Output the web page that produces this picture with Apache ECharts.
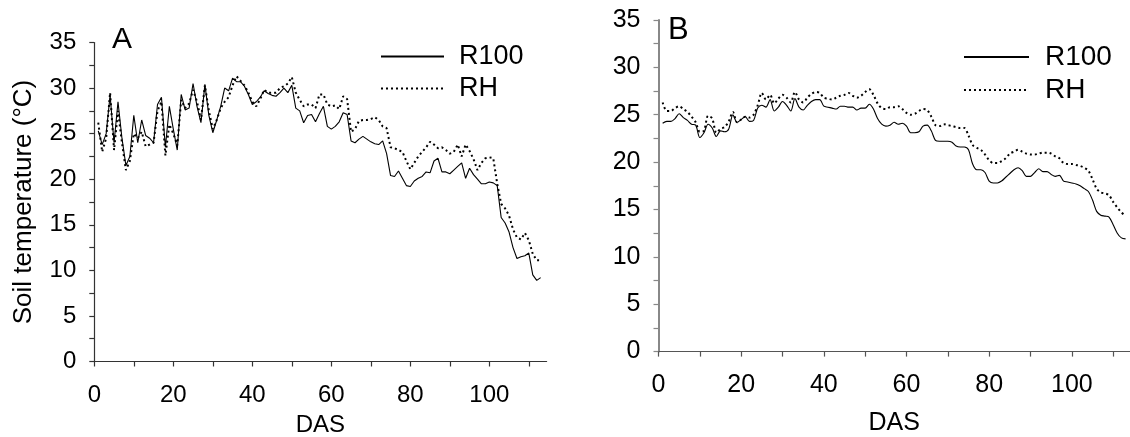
<!DOCTYPE html>
<html>
<head>
<meta charset="utf-8">
<script src="https://cdn.jsdelivr.net/npm/echarts@6/dist/echarts.min.js"></script>
<style>html,body{margin:0;padding:0;background:#fff}#c{width:1130px;height:437px}</style>
</head>
<body>
<div id="c"></div>
<script>
const das = [1,2,3,4,5,6,7,8,9,10,11,12,13,14,15,16,17,18,19,20,21,22,23,24,25,26,27,28,29,30,
31,32,33,34,35,36,37,38,39,40,41,42,43,44,45,46,47,48,49,50,51,52,53,54,55,56,57,58,59,60,
61,62,63,64,65,66,67,68,69,70,71,72,73,74,75,76,77,78,79,80,81,82,83,84,85,86,87,88,89,90,
91,92,93,94,95,96,97,98,99,100,101,102,103,104,105,106,107,108,109,110,111,112,113];

const aR100 = [25.3,23.8,25.0,29.2,24.0,28.5,24.5,21.5,22.5,27.0,
24.0,26.5,24.8,24.5,24.0,28.2,29.0,23.5,28.0,25.5,
23.2,29.3,27.6,27.8,30.5,28.0,26.2,30.4,27.0,25.1,
26.5,28.0,30.0,29.7,31.1,30.7,30.7,30.2,29.3,28.2,
28.5,29.0,29.7,29.4,29.2,29.1,29.5,30.0,29.5,30.3,
27.8,27.5,26.2,27.0,27.1,26.3,27.2,28.0,25.8,25.5,
25.8,26.3,27.3,27.1,24.2,24.0,24.4,24.7,24.4,24.1,
23.9,23.8,24.2,22.8,20.4,20.3,20.9,20.1,19.3,19.2,
19.8,20.1,20.3,20.8,20.7,22.0,22.3,20.8,20.8,20.6,
21.0,21.4,21.8,20.1,21.2,20.5,20.0,19.5,19.5,19.7,
19.6,19.3,15.8,15.2,14.2,12.5,11.3,11.5,11.6,11.9,
9.5,8.9,9.2];

const aRH = [26.2,23.0,24.5,29.5,23.2,27.5,24.0,21.0,22.0,25.0,
24.5,25.2,23.6,23.8,24.0,27.5,28.5,22.6,26.0,25.0,
23.7,28.7,27.8,28.3,29.8,28.5,26.5,30.3,27.5,25.5,
26.5,27.8,28.5,29.0,30.3,31.3,30.8,30.3,29.5,28.5,
28.0,28.8,29.8,29.5,29.5,29.5,30.0,30.2,30.5,31.2,
29.5,28.7,28.0,28.2,28.2,27.8,29.3,29.3,28.2,28.0,
28.1,27.7,29.1,28.8,25.2,25.5,26.4,26.5,26.5,26.6,
26.8,26.5,25.8,25.6,23.5,23.4,23.2,23.0,22.0,21.1,
21.8,22.5,23.0,23.5,24.1,23.8,23.4,23.5,23.2,22.8,
23.0,23.8,22.5,23.8,23.1,22.2,21.0,21.8,22.3,22.4,
22.3,19.5,17.3,16.8,16.0,14.5,13.6,13.4,14.1,13.3,
11.8,11.1,11.1];

const bR100 = [24.1,24.3,24.3,24.6,25.1,24.7,24.4,24.0,23.9,22.6,
23.1,24.0,23.6,22.7,23.3,23.2,23.5,25.0,24.2,24.5,
24.8,24.3,24.4,25.7,26.0,25.8,26.6,25.4,25.8,26.4,
26.0,25.4,26.7,25.8,25.5,26.0,26.4,26.6,26.6,25.9,
25.8,25.7,25.6,25.9,25.9,25.8,25.8,25.5,25.7,25.7,
26.1,25.6,24.6,24.0,23.8,23.9,24.2,24.0,24.1,23.8,
23.1,23.1,23.2,23.8,23.9,23.3,22.3,22.2,22.2,22.2,
22.1,21.7,21.6,21.6,21.3,19.8,19.2,19.2,18.9,18.0,
17.8,17.8,18.0,18.4,18.8,19.2,19.4,19.1,18.5,18.5,
18.9,19.3,19.0,19.0,18.7,18.5,18.6,18.0,17.9,17.8,
17.7,17.5,17.2,16.9,16.0,14.8,14.4,14.3,14.2,13.4,
12.5,12.0,11.9];

const bRH = [26.3,25.4,25.4,25.7,25.9,25.6,25.3,24.8,24.2,23.2,
23.3,24.9,24.6,23.1,23.5,23.7,24.3,25.3,24.2,24.5,
24.8,24.7,25.0,26.0,27.3,26.6,27.1,26.2,26.7,27.1,
26.8,26.3,27.4,26.6,26.3,26.8,27.2,27.4,27.3,26.8,
26.7,26.6,26.8,27.0,27.1,27.3,27.0,26.8,27.0,27.4,
27.7,27.1,26.2,25.7,25.6,25.8,25.8,25.9,25.6,25.2,
25.0,25.1,25.4,25.6,25.5,24.8,23.9,23.8,24.0,23.9,
23.8,23.7,23.6,23.6,22.8,21.8,21.5,21.3,20.8,20.2,
19.9,19.9,20.1,20.4,20.9,21.1,21.3,21.1,20.9,20.8,
20.8,20.9,21.0,21.0,20.9,20.6,20.4,19.9,19.8,19.8,
19.7,19.6,19.4,19.1,18.2,17.2,16.8,16.7,16.5,15.8,
15.2,14.7,14.3];

const xTickLabels = [0,20,40,60,80,100];
const xTicks = [0,10,20,30,40,50,60,70,80,90,100,110];
const seriesNames = ['R100','RH'];
const panelLabels = ['A','B'];
const yName = 'Soil temperature (°C)';
const xName = 'DAS';

const FONT = 'Liberation Sans, Arial, sans-serif';
const pair = (arr) => das.map((d,i) => [d, arr[i]]);

function xAxisCfg(gi, max, axisColor, gap, fs, margin) {
  return {
    type:'value', gridIndex:gi, min:0, max:max, interval:10,
    name:xName, nameLocation:'middle', nameGap:gap,
    nameTextStyle:{fontSize:fs, color:'#000', fontFamily:FONT},
    axisLine:{show:true, onZero:false, lineStyle:{color:axisColor, width:1.2}},
    axisTick:{show:true, length:5, customValues:xTicks, lineStyle:{color:axisColor, width:1.2}},
    axisLabel:{fontSize:fs, color:'#000', fontFamily:FONT, margin:margin, customValues:xTickLabels},
    splitLine:{show:false}
  };
}
function yAxisCfg(gi, axisColor, w, name, fs) {
  const c = {
    type:'value', gridIndex:gi, min:0, max:35, interval:5,
    axisLine:{show:true, lineStyle:{color:axisColor, width:w}},
    axisTick:{show:true, length:5, lineStyle:{color:axisColor, width:1.2}},
    minorTick:{show:true, splitNumber:2, length:5, lineStyle:{color:axisColor, width:1.2}},
    axisLabel:{fontSize:fs, color:'#000', fontFamily:FONT, margin:18},
    splitLine:{show:false}, minorSplitLine:{show:false}
  };
  if (name) {
    c.name = name; c.nameLocation = 'middle'; c.nameGap = 57;
    c.nameTextStyle = {fontSize:26, color:'#000', fontFamily:FONT};
  }
  return c;
}
const solid = {color:'#000', width:1.1, type:'solid'};
const dotted = {color:'#000', width:2, type:[2,3]};

const chart = echarts.init(document.getElementById('c'), null, {renderer:'canvas'});
chart.setOption({
  animation:false,
  backgroundColor:'#fff',
  grid:[
    {left:94.3, top:42.5, width:452.3, height:319, outerBoundsMode:'none', containLabel:false},
    {left:658.5, top:20, width:471.2, height:331.6, outerBoundsMode:'none', containLabel:false}
  ],
  xAxis:[ xAxisCfg(0, 114.5, '#333', 52, 24, 22), xAxisCfg(1, 114, '#555', 59, 25, 21) ],
  yAxis:[ yAxisCfg(0, '#333', 1.2, yName, 24), yAxisCfg(1, '#888', 2, null, 25) ],
  legend:[
    {orient:'vertical', left:375, top:38, itemWidth:63, itemHeight:14, itemGap:5,
     selectedMode:false, data:seriesNames, itemStyle:{opacity:0, borderWidth:0},
     textStyle:{fontSize:27, color:'#000', fontFamily:FONT, padding:[0,0,0,10]}},
    {orient:'vertical', left:958, top:38, itemWidth:65, itemHeight:14, itemGap:5,
     selectedMode:false, data:seriesNames, itemStyle:{opacity:0, borderWidth:0},
     textStyle:{fontSize:28, color:'#000', fontFamily:FONT, padding:[0,0,0,11]}}
  ],
  graphic:[
    {type:'text', left:112, top:25, style:{text:panelLabels[0], fontSize:30, fill:'#000', fontFamily:FONT}},
    {type:'text', left:668, top:15, style:{text:panelLabels[1], fontSize:31, fill:'#000', fontFamily:FONT}}
  ],
  series:[
    {name:seriesNames[0], type:'line', xAxisIndex:0, yAxisIndex:0, data:pair(aR100), symbol:'none', lineStyle:solid, itemStyle:{color:'#000'}},
    {name:seriesNames[1], type:'line', xAxisIndex:0, yAxisIndex:0, data:pair(aRH), symbol:'none', lineStyle:dotted, itemStyle:{color:'#000'}},
    {name:seriesNames[0], type:'line', xAxisIndex:1, yAxisIndex:1, data:pair(bR100), symbol:'none', smooth:0.3, lineStyle:solid, itemStyle:{color:'#000'}},
    {name:seriesNames[1], type:'line', xAxisIndex:1, yAxisIndex:1, data:pair(bRH), symbol:'none', smooth:0.3, lineStyle:dotted, itemStyle:{color:'#000'}}
  ]
});
</script>
</body>
</html>
